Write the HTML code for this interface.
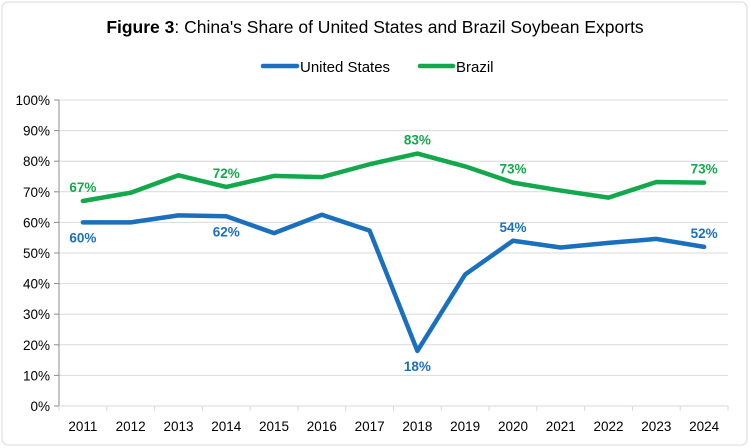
<!DOCTYPE html>
<html><head><meta charset="utf-8"><style>
body{margin:0;background:#fff}
svg{display:block;font-family:"Liberation Sans",Arial,sans-serif}
</style></head><body>
<svg id="chart" width="750" height="448" viewBox="0 0 750 448">
<rect x="2" y="2" width="745" height="443" rx="6" fill="#fff" stroke="#d9d9d9"/>
<text x="375" y="33" text-anchor="middle" font-size="17.5" fill="#000"><tspan font-weight="bold">Figure 3</tspan>: China's Share of United States and Brazil Soybean Exports</text>
<g>
<line x1="263" y1="66" x2="297" y2="66" stroke="#1b70bd" stroke-width="4.5" stroke-linecap="round"/>
<text x="300" y="72" font-size="15" fill="#000">United States</text>
<line x1="420" y1="66" x2="453" y2="66" stroke="#14a84c" stroke-width="4.5" stroke-linecap="round"/>
<text x="456" y="72" font-size="15" fill="#000">Brazil</text>
</g>
<g id="grid"></g><g id="axes"></g><g id="series"></g><g id="labels"></g>
</svg>
<script>
const years=['2011','2012','2013','2014','2015','2016','2017','2018','2019','2020','2021','2022','2023','2024'];
const usValues=[60,60,62.3,62,56.5,62.5,57.3,18,43,54,51.8,53.3,54.6,52];
const brazilValues=[67,69.7,75.4,71.6,75.2,74.8,79,82.5,78.3,73,70.4,68.1,73.2,73];
const yTicks=[0,10,20,30,40,50,60,70,80,90,100];
const usLabelIdx=[0,3,7,9,13];
const brazilLabelIdx=[0,3,7,9,13];
const NS='http://www.w3.org/2000/svg';
const L=59,R=728,T=100,B=406;
const step=(R-L)/years.length;
const x=i=>L+step*(i+0.5);
const y=v=>B-(v/100)*(B-T);
function mk(tag,attrs,parent){const e=document.createElementNS(NS,tag);for(const k in attrs)e.setAttribute(k,attrs[k]);parent.appendChild(e);return e;}
const grid=document.getElementById('grid'),axes=document.getElementById('axes'),series=document.getElementById('series'),labels=document.getElementById('labels');
yTicks.forEach(v=>{
 if(v>0){const g=mk('line',{x1:L,x2:R,y1:y(v),y2:y(v),stroke:'#d9d9d9','stroke-width':1},grid);
 
 }
 const tk=mk('line',{x1:L-5,x2:L,y1:y(v),y2:y(v),stroke:'#8c8c8c'},axes);
 
 
 const t=mk('text',{x:L-9,y:y(v)+5,'text-anchor':'end','font-size':13.5,fill:'#000'},axes);
 t.textContent=v+'%';
 
 
});
const ya=mk('line',{x1:L,x2:L,y1:T,y2:B,stroke:'#8c8c8c'},axes);


const xa=mk('line',{x1:L,x2:R,y1:B,y2:B,stroke:'#d9d9d9'},axes);


for(let i=0;i<=years.length;i++){
 const tk=mk('line',{x1:L+step*i,x2:L+step*i,y1:B,y2:B+5,stroke:'#d9d9d9'},axes);
 
 
}
years.forEach((yr,i)=>{
 const t=mk('text',{x:x(i),y:431,'text-anchor':'middle','font-size':13.5,fill:'#000'},axes);
 t.textContent=yr;
 
 
});
function drawLine(vals,color,name){
 const p=mk('polyline',{points:vals.map((v,i)=>x(i)+','+y(v)).join(' '),fill:'none',stroke:color,'stroke-width':4.5,'stroke-linejoin':'round','stroke-linecap':'round'},series);
 
 
}
drawLine(brazilValues,'#14a84c','brazil-line');
drawLine(usValues,'#1b70bd','us-line');
function drawLabels(vals,idx,color,name,below){
 idx.forEach(i=>{
  const v=vals[i];
  const dy=(name==='us'&&(i===0||i===3||i===7))?20:-9;
  const t=mk('text',{x:x(i),y:y(v)+dy,'text-anchor':'middle','font-size':13.5,'font-weight':'bold',fill:color},labels);
  t.textContent=Math.round(v)+'%';
  
  
 });
}
drawLabels(brazilValues,brazilLabelIdx,'#14a84c','brazil');
drawLabels(usValues,usLabelIdx,'#1b70bd','us');
</script>
</body></html>
